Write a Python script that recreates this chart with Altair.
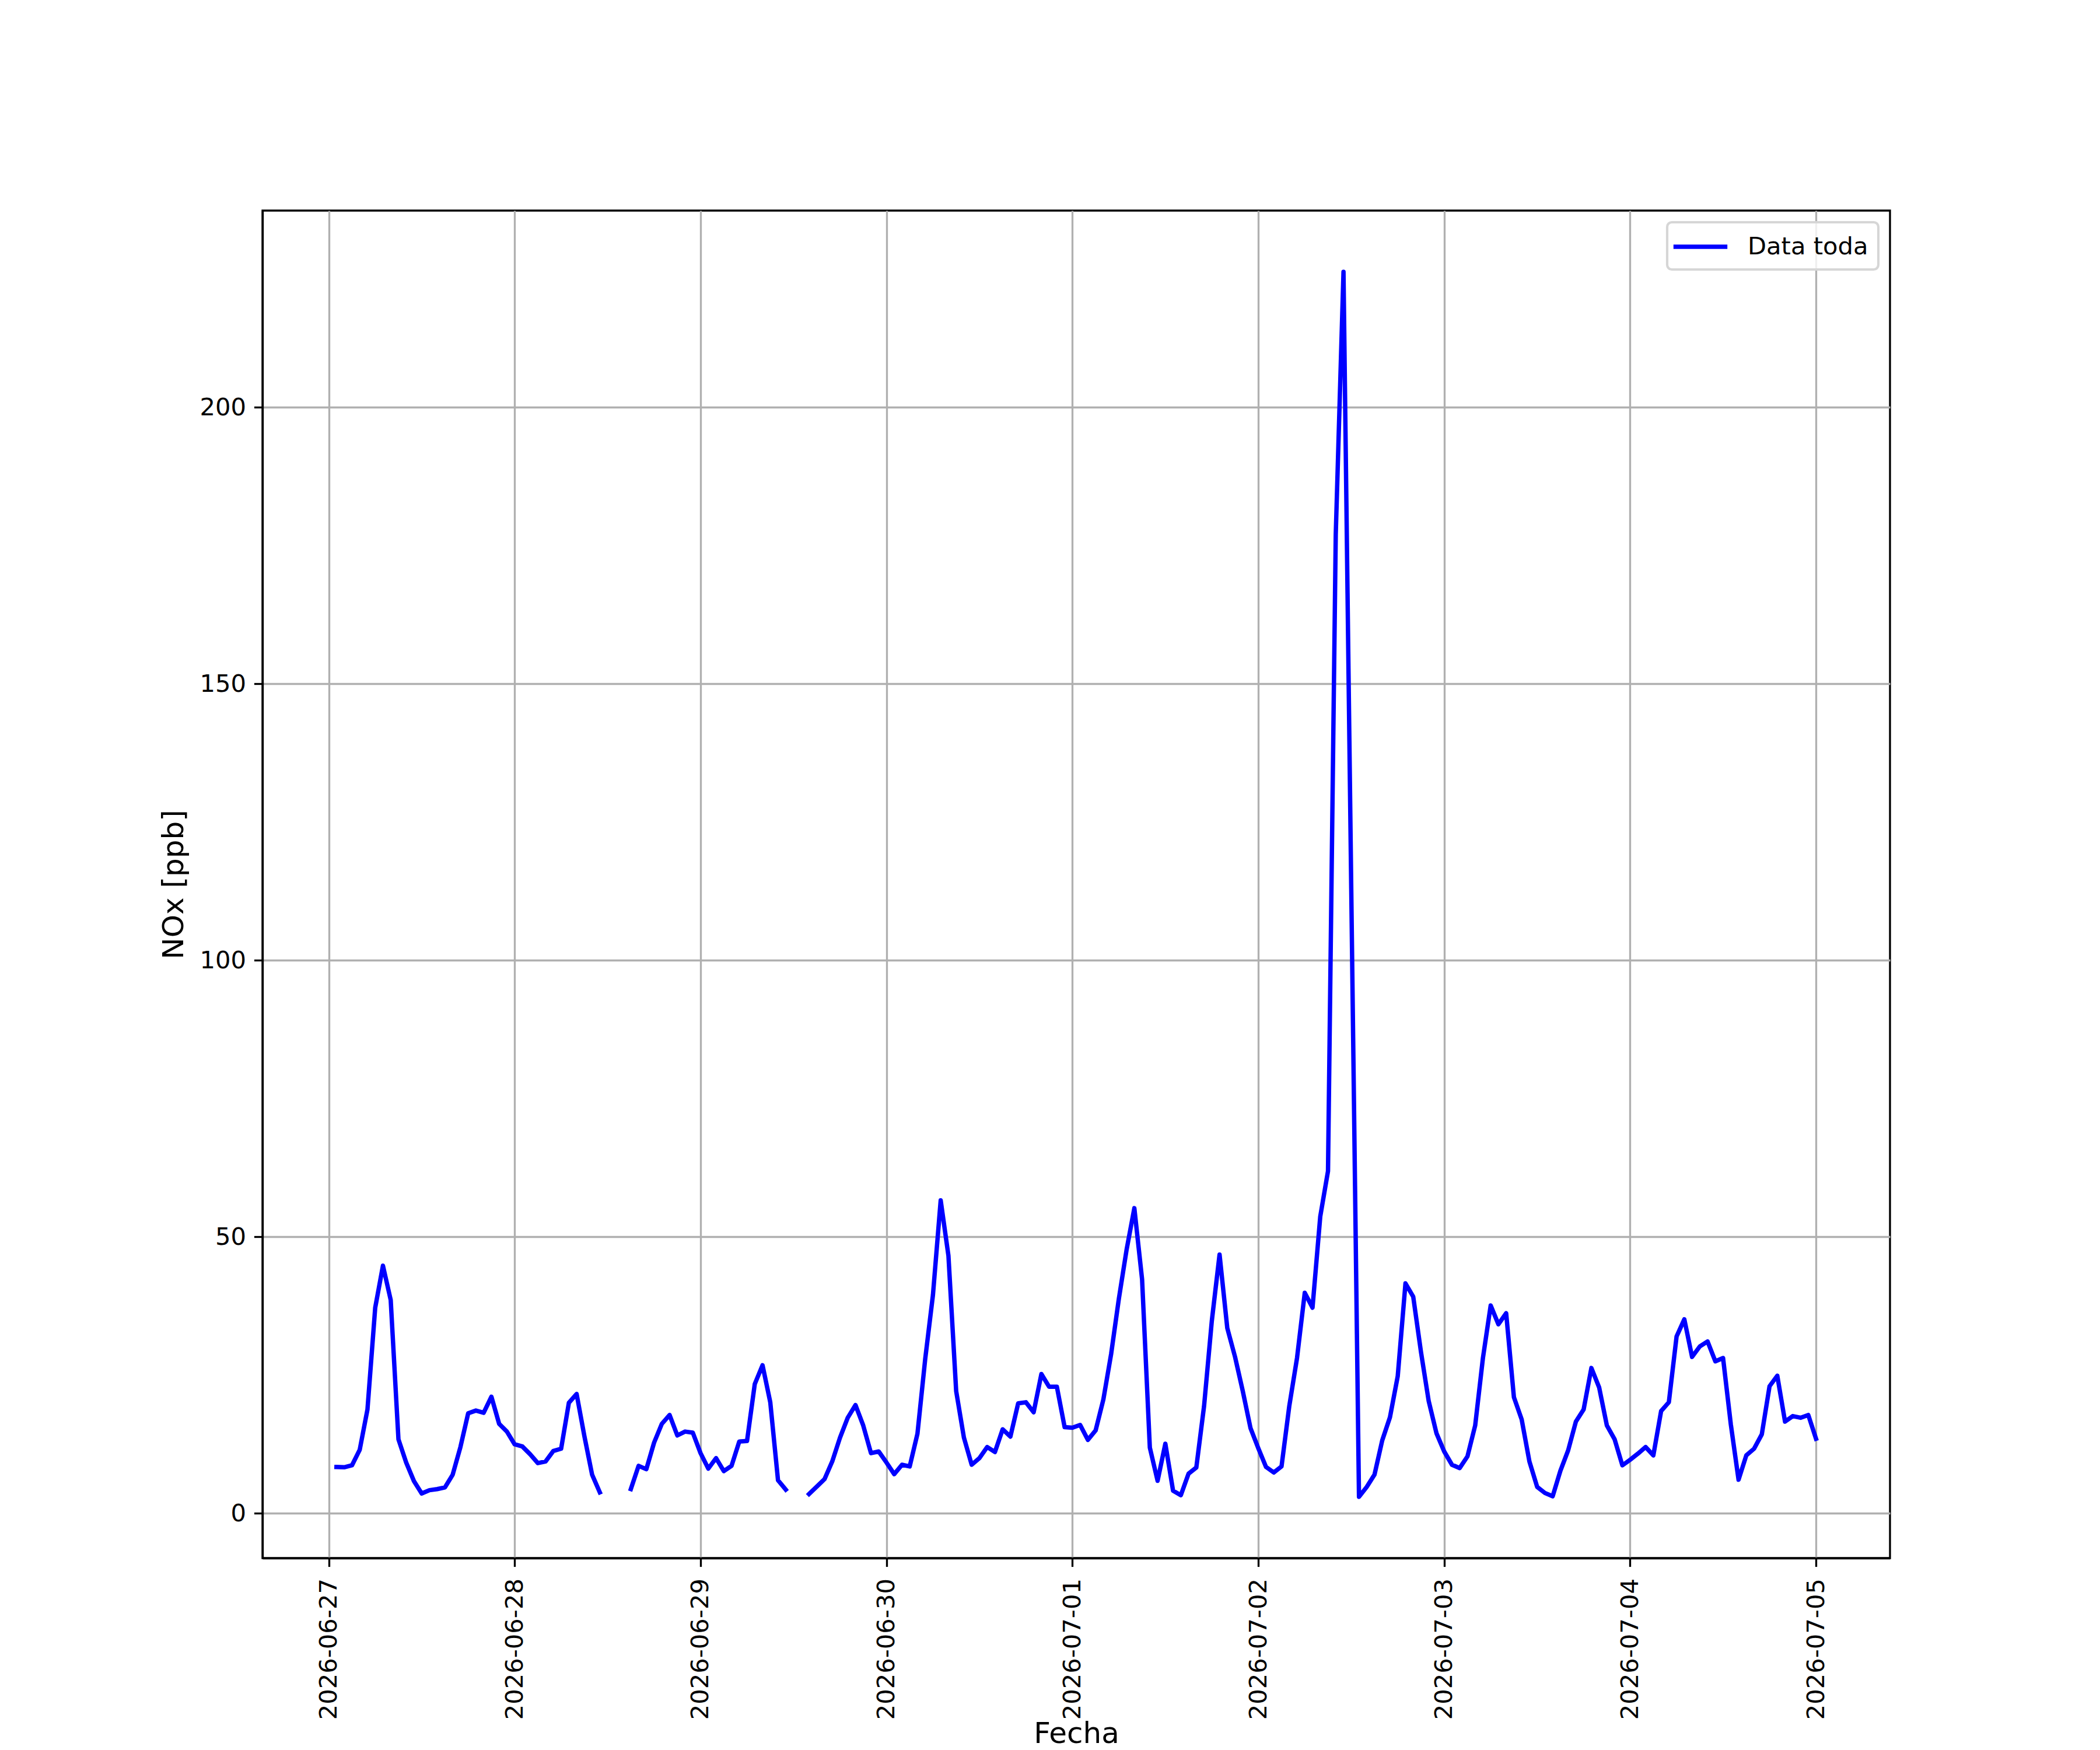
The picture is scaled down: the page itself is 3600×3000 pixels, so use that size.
import altair as alt
import pandas as pd

# ---- data ----
START = "2026-06-27 01:00"
END = "2026-07-05 00:00"

nox_day1 = [8.4, 8.35, 8.7, 11.5, 18.8, 37.2, 44.8, 38.6, 13.4, 9.2, 5.85, 3.6,
            4.2, 4.4, 4.7, 7.0, 12.0, 18.1, 18.6, 18.2, 21.1, 16.2, 14.8, 12.5]
nox_day2 = [12.1, 10.7, 9.1, 9.4, 11.3, 11.7, 20.0, 21.6, 14.0, 7.0, 3.8, None,
            None, None, 4.4, 8.6, 8.0, 12.8, 16.2, 17.8, 14.1, 14.8, 14.6, 10.9]
nox_day3 = [8.1, 10.0, 7.65, 8.6, 13.0, 13.1, 23.4, 26.8, 20.1, 6.0, 4.3, None,
            None, 3.5, 4.85, 6.2, 9.4, 13.7, 17.3, 19.6, 15.9, 10.9, 11.2, 9.2]
nox_day4 = [7.1, 8.8, 8.5, 14.4, 27.9, 39.5, 56.6, 46.6, 22.1, 13.7, 8.8, 10.0,
            12.0, 11.1, 15.2, 13.9, 19.9, 20.1, 18.3, 25.2, 22.9, 22.9, 15.6, 15.5]
nox_day5 = [16.0, 13.3, 15.0, 20.6, 28.8, 38.8, 47.7, 55.2, 42.3, 11.9, 5.9, 12.6,
            4.1, 3.3, 7.2, 8.3, 19.4, 34.8, 46.8, 33.5, 28.3, 22.1, 15.4, 11.8]
nox_day6 = [8.4, 7.4, 8.5, 19.4, 28.1, 39.9, 37.2, 53.7, 61.9, 177.0, 224.5, 113.0,
            3.0, 4.8, 7.0, 13.2, 17.4, 24.8, 41.6, 39.2, 29.2, 20.3, 14.5, 11.2]
nox_day7 = [8.8, 8.2, 10.3, 15.9, 28.1, 37.6, 34.2, 36.2, 21.0, 17.0, 9.4, 4.8,
            3.7, 3.1, 7.7, 11.4, 16.6, 18.8, 26.3, 22.8, 15.9, 13.4, 8.7, 9.7]
nox_day8 = [10.8, 12.0, 10.5, 18.5, 20.1, 32.0, 35.1, 28.3, 30.2, 31.1, 27.5, 28.1,
            16.1, 6.1, 10.5, 11.7, 14.3, 23.0, 24.9, 16.6, 17.6, 17.3, 17.8, 13.5]

tick_dates = ["2026-06-27", "2026-06-28", "2026-06-29", "2026-06-30", "2026-07-01",
              "2026-07-02", "2026-07-03", "2026-07-04", "2026-07-05"]
x_domain = ["2026-06-26 15:27", "2026-07-05 09:33"]
y_domain = [-8.075, 235.575]
y_ticks = [0, 50, 100, 150, 200]
series_name = "Data toda"

# ---- build table ----
nox = nox_day1 + nox_day2 + nox_day3 + nox_day4 + nox_day5 + nox_day6 + nox_day7 + nox_day8
times = pd.date_range(START, END, freq="h")
df = pd.DataFrame({
    "Fecha": times.strftime("%Y-%m-%dT%H:%M:%S"),
    "NOx": nox,
    "serie": series_name,
})


def to_dt(s):
    t = pd.Timestamp(s)
    return alt.DateTime(year=t.year, month=t.month, date=t.day, hours=t.hour, minutes=t.minute)


FONT = "DejaVu Sans"
PT = 300 / 72.0  # px per point at 300 dpi

line = alt.Chart(df).mark_line(
    strokeWidth=1.8 * PT,
    strokeCap="square",
    strokeJoin="round",
    invalid="break-paths-filter-domains",
).encode(
    x=alt.X(
        "Fecha:T",
        scale=alt.Scale(domain=[to_dt(x_domain[0]), to_dt(x_domain[1])], nice=False),
        axis=alt.Axis(
            values=[to_dt(d) for d in tick_dates],
            format="%Y-%m-%d",
            labelAngle=270,
            title="Fecha",
            labelPadding=20,
            titlePadding=76,
        ),
    ),
    y=alt.Y(
        "NOx:Q",
        scale=alt.Scale(domain=y_domain, nice=False, zero=False),
        axis=alt.Axis(values=y_ticks, format="d", title="NOx [ppb]", labelPadding=14, titlePadding=18),
    ),
    color=alt.Color(
        "serie:N",
        scale=alt.Scale(domain=[series_name], range=["#0000ff"]),
        legend=alt.Legend(
            title=None,
            orient="top-right",
            offset=20,
            padding=17,
            strokeColor="#d6d6d6",
            fillColor="rgba(255,255,255,0.8)",
            cornerRadius=8,
            symbolType="M-2.2,0L2.2,0",
            symbolSize=1764,
            symbolOffset=15,
            symbolStrokeWidth=1.8 * PT,
            labelFont=FONT,
            labelFontSize=10 * PT,
            labelColor="black",
            labelOffset=56,
            labelLimit=0,
        ),
    ),
)

chart = line.properties(
    width=2790,
    height=2310,
    autosize=alt.AutoSizeParams(type="none"),
    padding={"left": 442, "top": 353, "right": 352, "bottom": 345},
    background="white",
).configure_view(
    stroke="black",
    strokeWidth=0.8 * PT,
).configure_axis(
    labelFont=FONT,
    labelFontSize=10 * PT,
    labelColor="black",
    labelLimit=0,
    titleFont=FONT,
    titleFontSize=12 * PT,
    titleFontWeight="normal",
    titleColor="black",
    grid=True,
    gridColor="#b0b0b0",
    gridWidth=0.8 * PT,
    tickColor="black",
    tickWidth=0.8 * PT,
    tickSize=3.5 * PT,
    domainColor="black",
    domainWidth=0.8 * PT,
    labelFlush=False,
    labelOverlap=False,
    labelBound=False,
).configure_legend(
    strokeWidth=1.0 * PT,
)

chart.save("out.html", embed_options={"renderer": "svg", "actions": False})
